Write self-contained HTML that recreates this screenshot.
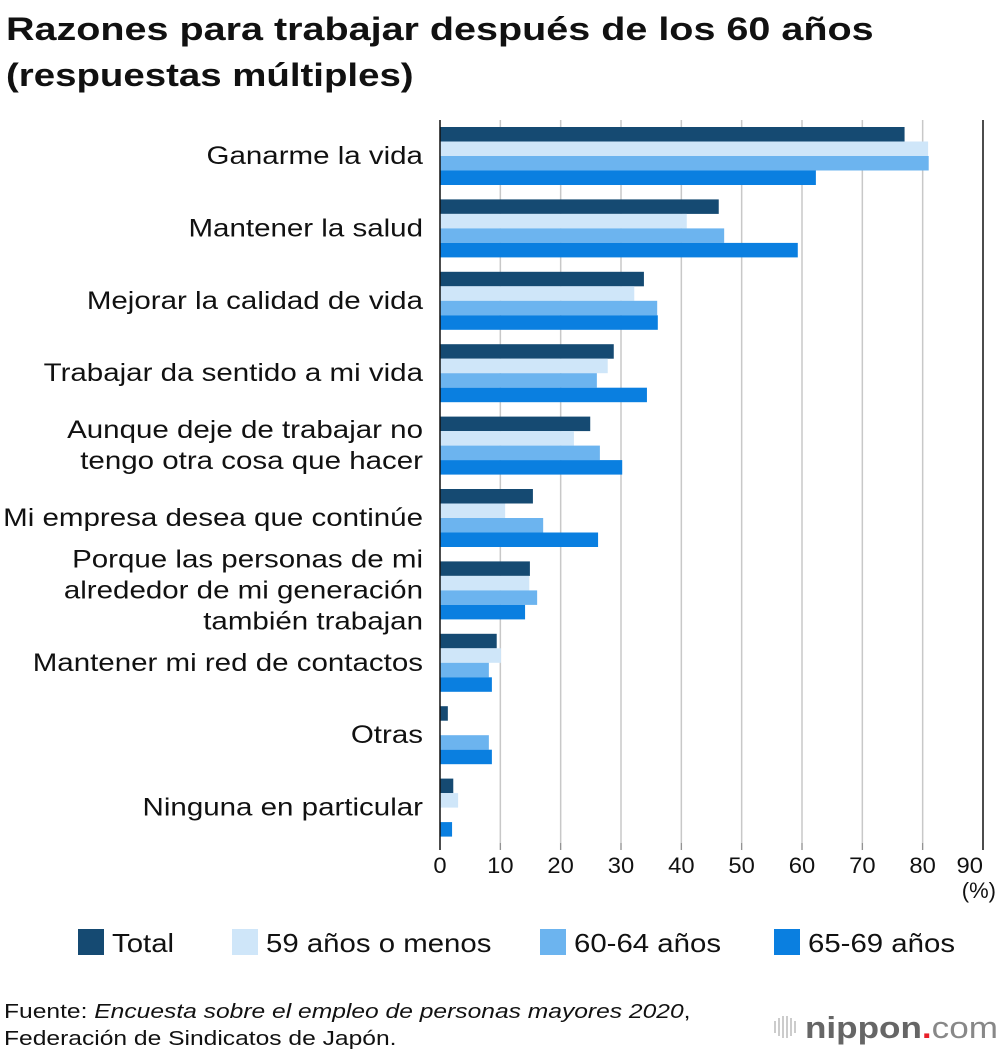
<!DOCTYPE html>
<html><head><meta charset="utf-8"><style>
body{margin:0;background:#fff;font-family:"Liberation Sans",sans-serif;}
svg text{font-family:"Liberation Sans",sans-serif;}
</style></head><body>
<svg id="c" width="1000" height="1054" xmlns="http://www.w3.org/2000/svg">
<text class="st" data-f="1.235" x="6" y="40" font-size="32" font-weight="bold" fill="#111">Razones para trabajar después de los 60 años</text>
<text class="st" data-f="1.2" x="6" y="86" font-size="32" font-weight="bold" fill="#111">(respuestas múltiples)</text>
<g id="grid"></g><g id="bars"></g><g id="labels"></g><g id="ticks"></g><g id="legend"></g>
<text class="st" data-f="1.23" x="4" y="1018" font-size="20" fill="#111">Fuente: <tspan font-style="italic">Encuesta sobre el empleo de personas mayores 2020</tspan>,</text>
<text class="st" data-f="1.23" x="4" y="1045" font-size="20" fill="#111">Federación de Sindicatos de Japón.</text>
<g>
<g stroke="#bbb" stroke-width="1.5"><line x1="775" y1="1021" x2="775" y2="1033"/><line x1="779" y1="1018" x2="779" y2="1036"/><line x1="783" y1="1016" x2="783" y2="1038"/><line x1="787" y1="1016" x2="787" y2="1038"/><line x1="791" y1="1018" x2="791" y2="1036"/><line x1="795" y1="1021" x2="795" y2="1033"/></g>
<text x="805" y="1038" font-size="31" font-weight="bold" fill="#666" textLength="193" lengthAdjust="spacingAndGlyphs">nippon<tspan fill="#e8202a">.</tspan><tspan font-weight="normal" fill="#888">com</tspan></text>
</g>
</svg>
<script>
const categories=[["Ganarme la vida"],["Mantener la salud"],["Mejorar la calidad de vida"],["Trabajar da sentido a mi vida"],["Aunque deje de trabajar no","tengo otra cosa que hacer"],["Mi empresa desea que continúe"],["Porque las personas de mi","alrededor de mi generación","también trabajan"],["Mantener mi red de contactos"],["Otras"],["Ninguna en particular"]];
const seriesNames=["Total","59 años o menos","60-64 años","65-69 años"];
const total=[77,46.2,33.8,28.8,24.9,15.4,14.9,9.4,1.3,2.2];
const under59=[80.9,40.9,32.2,27.8,22.2,10.8,14.8,10.1,0,3];
const age6064=[81,47.1,36,26,26.5,17.1,16.1,8.1,8.1,0];
const age6569=[62.3,59.3,36.1,34.3,30.2,26.2,14.1,8.6,8.6,2];
const tickLabels=[0,10,20,30,40,50,60,70,80,90];
const colors=["#154a72","#cfe6f9","#6cb4ef","#0a7fe0"];
const NS="http://www.w3.org/2000/svg";
const x0=440,x1=983,xmax=90,top0=127,groupH=72.4,barH=14.5;
const xs=v=>x0+(x1-x0)*v/xmax;
function mk(tag,attrs,parent){const e=document.createElementNS(NS,tag);for(const k in attrs)e.setAttribute(k,attrs[k]);document.getElementById(parent).appendChild(e);return e;}
function stretch(el,f){const w=el.getComputedTextLength();el.setAttribute("textLength",w*f);el.setAttribute("lengthAdjust","spacingAndGlyphs");}
tickLabels.forEach(t=>{
 if(t>0&&t<90){const g=mk("line",{x1:xs(t),x2:xs(t),y1:120,y2:850,stroke:"#c8c8c8","stroke-width":1.5},"grid");
 
 }
 const tk=mk("line",{x1:xs(t),x2:xs(t),y1:843,y2:850,stroke:"#888","stroke-width":1},"ticks");
 
 
 const tl=mk("text",{x:xs(t),y:873,"font-size":22,"text-anchor":t==90?"end":"middle",fill:"#111"},"ticks");
 tl.textContent=t;
 
 
 stretch(tl,1.08);
});
const ax=mk("line",{x1:x0,x2:x0,y1:120,y2:850,stroke:"#111","stroke-width":1.5},"ticks");


const ax2=mk("line",{x1:x1,x2:x1,y1:120,y2:850,stroke:"#111","stroke-width":1.5},"ticks");


const unit=mk("text",{x:996,y:898,"font-size":22,"text-anchor":"end",fill:"#111"},"ticks");
unit.textContent="(%)";


const series=[total,under59,age6064,age6569];
categories.forEach((cat,i)=>{
 const gy=top0+i*groupH;
 series.forEach((s,j)=>{
  const r=mk("rect",{x:x0,y:gy+j*barH,width:Math.max(0,xs(s[i])-x0),height:barH,fill:colors[j]},"bars");
  
  
 });
 const cy=gy+2*barH;const n=cat.length;
 cat.forEach((line,k)=>{
  const t=mk("text",{x:423,y:cy+8+(k-(n-1)/2)*31,"font-size":25,"text-anchor":"end",fill:"#111"},"labels");
  t.textContent=line;
  
  
  stretch(t,1.18);
 });
});
const lx=[78,232,540,774];
seriesNames.forEach((n,j)=>{
 const r=mk("rect",{x:lx[j],y:929,width:26,height:26,fill:colors[j]},"legend");
 
 
 const t=mk("text",{x:lx[j]+34,y:952,"font-size":26,fill:"#111"},"legend");
 t.textContent=n;
 
 
 stretch(t,1.13);
});
document.querySelectorAll(".st").forEach(e=>stretch(e,parseFloat(e.getAttribute("data-f"))));
</script>
</body></html>
